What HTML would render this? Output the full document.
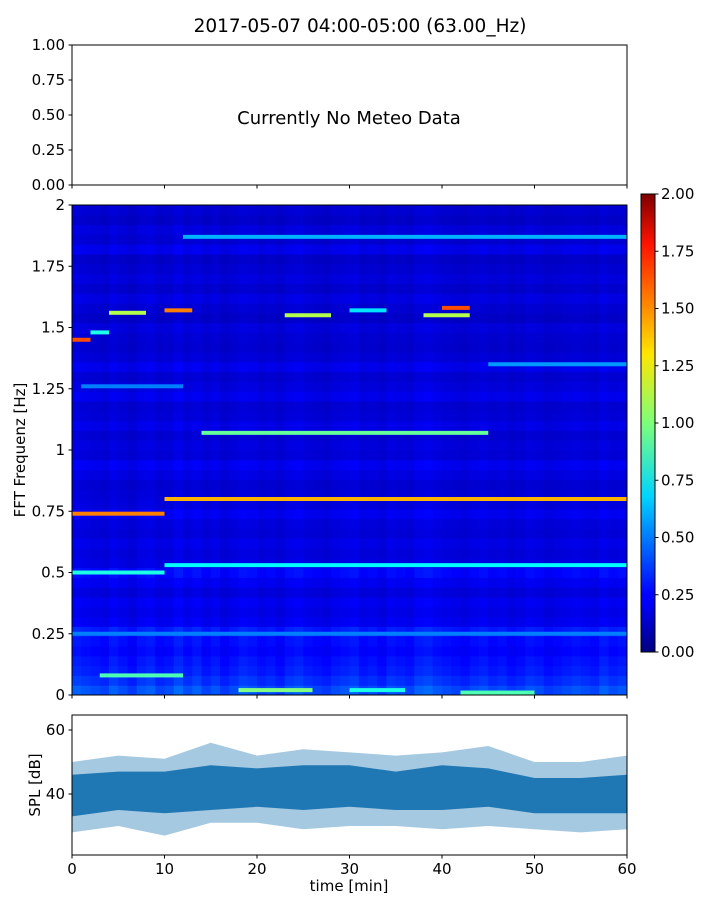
<!DOCTYPE html>
<html><head><meta charset="utf-8">
<style>
html,body{margin:0;padding:0;background:#fff;}
svg{display:block;font-family:"DejaVu Sans","Liberation Sans",sans-serif;}
</style></head>
<body>
<svg id="fig" width="720" height="900" viewBox="0 0 720 900" xmlns="http://www.w3.org/2000/svg">
<defs>
<linearGradient id="jet" x1="0" y1="1" x2="0" y2="0">
<stop offset="0" stop-color="#00007f"/><stop offset="0.11" stop-color="#0000ff"/>
<stop offset="0.125" stop-color="#0000ff"/><stop offset="0.34" stop-color="#00d4ff"/>
<stop offset="0.5" stop-color="#7dff7a"/><stop offset="0.65" stop-color="#ffe600"/>
<stop offset="0.89" stop-color="#ff1300"/><stop offset="1" stop-color="#7f0000"/>
</linearGradient>
<clipPath id="specClip"><rect x="72" y="205" width="555" height="490"/></clipPath>
<clipPath id="splClip"><rect x="72" y="715" width="555" height="140"/></clipPath>
</defs>
<text x="360" y="32" text-anchor="middle" font-size="18.5">2017-05-07 04:00-05:00 (63.00_Hz)</text>
<g id="topPanel"></g>
<g id="spec"></g>
<g id="cbar"></g>
<g id="spl"></g>
</svg>
<script>
// ---- data ----
const topTicks = ["0.00","0.25","0.50","0.75","1.00"];
const freqTicks = [0,0.25,0.5,0.75,1,1.25,1.5,1.75,2];
const freqTickLabels = ["0","0.25","0.5","0.75","1","1.25","1.5","1.75","2"];
const timeTicks = [0,10,20,30,40,50,60];
const cbarTicks = ["0.00","0.25","0.50","0.75","1.00","1.25","1.50","1.75","2.00"];
const splTicks = [40,60];
// background level per 0.04 Hz row (bottom->top)
const rowBg = [0.4,0.34,0.3,0.28,0.25,0.27,0.3,0.22,0.2,0.22,0.18,0.22,0.26,0.19,0.18,0.2,0.17,0.18,0.22,0.18,
 0.17,0.16,0.19,0.22,0.17,0.18,0.16,0.2,0.17,0.16,0.21,0.18,0.16,0.21,0.17,0.15,0.16,0.18,0.14,0.16,
 0.19,0.15,0.18,0.16,0.14,0.21,0.16,0.18,0.14,0.16];
// per-minute modulation
const colMod = [1.1,1.05,1.0,0.95,1.1,1.0,0.9,1.05,1.1,0.95,1.0,1.15,1.0,1.1,0.95,1.05,0.9,1.0,1.1,1.05,
 0.95,1.0,0.9,1.05,1.1,1.0,0.95,0.9,1.0,1.05,1.1,0.95,1.0,0.9,1.05,1.0,0.95,1.1,1.15,1.05,
 1.0,0.95,0.9,1.0,1.05,0.95,1.0,0.9,0.95,1.05,1.0,0.9,0.95,1.0,1.05,1.0,0.95,1.1,1.0,1.05];
// spectral lines: start min, end min, freq Hz, value
const lineT0 = [0,2,4,10,23,30,38,40,12,14,0,10,0,10,45,1,0,3,18,30,42];
const lineT1 = [2,4,8,13,28,34,43,43,60,45,10,60,10,60,60,12,60,12,26,36,50];
const lineF  = [1.45,1.48,1.56,1.57,1.55,1.57,1.55,1.58,1.87,1.07,0.74,0.8,0.5,0.53,1.35,1.26,0.25,0.08,0.02,0.02,0.01];
const lineV  = [1.6,0.8,1.1,1.5,1.1,0.7,1.1,1.6,0.6,0.95,1.5,1.4,0.8,0.75,0.55,0.5,0.5,0.9,1.0,0.8,0.9];
// SPL envelope per 5 min
const splT = [0,5,10,15,20,25,30,35,40,45,50,55,60];
const splLo = [28,30,27,31,31,29,30,30,29,30,29,28,29];
const splHi = [50,52,51,56,52,54,53,52,53,55,50,50,52];
const splCoreLo = [33,35,34,35,36,35,36,35,35,36,34,34,34];
const splCoreHi = [46,47,47,49,48,49,49,47,49,48,45,45,46];

// ---- helpers ----
const NS="http://www.w3.org/2000/svg";
function mk(tag,attrs,parent){const el=document.createElementNS(NS,tag);for(const k in attrs)el.setAttribute(k,attrs[k]);parent.appendChild(el);return el;}
function jet(v){let x=Math.max(0,Math.min(1,v/2));
 const r=Math.max(0,Math.min(1,1.5-Math.abs(4*x-3))),g=Math.max(0,Math.min(1,1.5-Math.abs(4*x-2))),b=Math.max(0,Math.min(1,1.5-Math.abs(4*x-1)));
 return `rgb(${Math.round(r*255)},${Math.round(g*255)},${Math.round(b*255)})`;}
const X0=72,X1=627;
const tx=t=>X0+(t/60)*(X1-X0);
const fy=f=>695-(f/2)*490;
const topY=v=>185-v*140;
const splY=d=>794-(d-40)*3.2;
const cy=v=>652-(v/2)*458;

// ---- top panel ----
const topG=document.getElementById('topPanel');
let e=mk('rect',{x:72,y:45,width:555,height:140,fill:'none',stroke:'#000','stroke-width':1},topG);

topTicks.forEach((l,i)=>{const y=topY(i*0.25);
 mk('line',{x1:68.5,x2:72,y1:y,y2:y,stroke:'#000'},topG);
 const t=mk('text',{x:65,y:y+5,'text-anchor':'end','font-size':15},topG);t.textContent=l;
 });
timeTicks.forEach(v=>{mk('line',{x1:tx(v),x2:tx(v),y1:185,y2:188.5,stroke:'#000'},topG);});
e=mk('text',{x:349,y:124,'text-anchor':'middle','font-size':18},topG);e.textContent='Currently No Meteo Data';


// ---- spectrogram ----
const spec=document.getElementById('spec');
const cells=mk('g',{'clip-path':'url(#specClip)'},spec);

const df=2/rowBg.length;
rowBg.forEach((rb,r)=>{colMod.forEach((cm,c)=>{
 const y1=fy((r+1)*df),y2=fy(r*df);
 const cell=mk('rect',{x:tx(c),y:y1,width:tx(c+1)-tx(c)+0.5,height:y2-y1+0.5,fill:jet(rb*cm)},cells);
 
});});
lineF.forEach((f,i)=>{
 const ln=mk('rect',{x:tx(lineT0[i]),y:fy(f)-2,width:tx(lineT1[i])-tx(lineT0[i]),height:4,fill:jet(lineV[i])},cells);
 
});
e=mk('rect',{x:72,y:205,width:555,height:490,fill:'none',stroke:'#000'},spec);

freqTicks.forEach((f,i)=>{const y=fy(f);
 mk('line',{x1:68.5,x2:72,y1:y,y2:y,stroke:'#000'},spec);
 const t=mk('text',{x:65,y:y+5,'text-anchor':'end','font-size':15},spec);t.textContent=freqTickLabels[i];
 });
timeTicks.forEach(v=>{mk('line',{x1:tx(v),x2:tx(v),y1:695,y2:698.5,stroke:'#000'},spec);});
e=mk('text',{x:25,y:450,'text-anchor':'middle','font-size':15,transform:'rotate(-90 25 450)'},spec);e.textContent='FFT Frequenz [Hz]';


// ---- colorbar ----
const cb=document.getElementById('cbar');
mk('rect',{x:641,y:194,width:14,height:458,fill:'url(#jet)',stroke:'#000'},cb);
cbarTicks.forEach((l,i)=>{const y=cy(i*0.25);
 mk('line',{x1:655,x2:658.5,y1:y,y2:y,stroke:'#000'},cb);
 const t=mk('text',{x:661,y:y+5,'font-size':15},cb);t.textContent=l;
 });

// ---- SPL panel ----
const spl=document.getElementById('spl');
const sg=mk('g',{'clip-path':'url(#splClip)'},spl);
function band(lo,hi,op,name){let d='M'+splT.map((t,i)=>tx(t)+','+splY(hi[i])).join('L');
 for(let i=splT.length-1;i>=0;i--)d+='L'+tx(splT[i])+','+splY(lo[i]);d+='Z';
 const p=mk('path',{d:d,fill:'#1f77b4','fill-opacity':op},sg);
 }
band(splLo,splHi,0.4,'spl-envelope');
band(splCoreLo,splCoreHi,1,'spl-core-band');
e=mk('rect',{x:72,y:715,width:555,height:140,fill:'none',stroke:'#000'},spl);

splTicks.forEach(v=>{const y=splY(v);
 mk('line',{x1:68.5,x2:72,y1:y,y2:y,stroke:'#000'},spl);
 const t=mk('text',{x:65,y:y+5,'text-anchor':'end','font-size':15},spl);t.textContent=v;
 });
timeTicks.forEach(v=>{mk('line',{x1:tx(v),x2:tx(v),y1:855,y2:858.5,stroke:'#000'},spl);
 const t=mk('text',{x:tx(v),y:874,'text-anchor':'middle','font-size':15},spl);t.textContent=v;
 });
e=mk('text',{x:349,y:891,'text-anchor':'middle','font-size':15},spl);e.textContent='time [min]';

e=mk('text',{x:40,y:785,'text-anchor':'middle','font-size':15,transform:'rotate(-90 40 785)'},spl);e.textContent='SPL [dB]';

</script>
</body></html>
